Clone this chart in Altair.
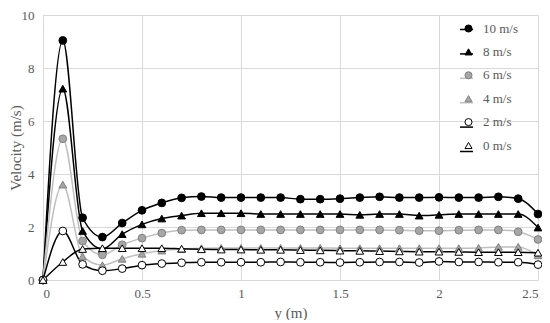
import altair as alt
import pandas as pd

# y position (m)
y_pos = [0.0, 0.1, 0.2, 0.3, 0.4, 0.5, 0.6, 0.7, 0.8, 0.9, 1.0, 1.1, 1.2,
         1.3, 1.4, 1.5, 1.6, 1.7, 1.8, 1.9, 2.0, 2.1, 2.2, 2.3, 2.4, 2.5]

series_names = ["10 m/s", "8 m/s", "6 m/s", "4 m/s", "2 m/s", "0 m/s"]

v10 = [0, 9.04, 2.35, 1.62, 2.15, 2.63, 2.91, 3.10, 3.15, 3.11, 3.11, 3.11, 3.11,
       3.05, 3.05, 3.07, 3.11, 3.14, 3.11, 3.11, 3.12, 3.11, 3.11, 3.14, 3.07, 2.49]
v8 = [0, 7.22, 1.85, 1.17, 1.73, 2.10, 2.32, 2.43, 2.52, 2.52, 2.52, 2.49, 2.49,
      2.49, 2.49, 2.49, 2.46, 2.49, 2.49, 2.43, 2.46, 2.49, 2.49, 2.49, 2.49, 1.98]
v6 = [0, 5.33, 1.47, 0.95, 1.33, 1.58, 1.77, 1.88, 1.89, 1.89, 1.89, 1.89, 1.89,
      1.89, 1.89, 1.89, 1.89, 1.89, 1.88, 1.86, 1.86, 1.88, 1.89, 1.89, 1.82, 1.53]
v4 = [0, 3.60, 0.89, 0.56, 0.80, 0.99, 1.11, 1.17, 1.20, 1.21, 1.21, 1.21, 1.21,
      1.21, 1.21, 1.20, 1.20, 1.20, 1.20, 1.20, 1.20, 1.20, 1.21, 1.25, 1.25, 0.93]
v2 = [0, 1.85, 0.59, 0.35, 0.43, 0.56, 0.62, 0.65, 0.67, 0.67, 0.67, 0.67, 0.68,
      0.67, 0.67, 0.66, 0.67, 0.68, 0.68, 0.66, 0.70, 0.68, 0.68, 0.67, 0.67, 0.58]
v0 = [0, 0.68, 1.17, 1.20, 1.20, 1.20, 1.20, 1.18, 1.16, 1.15, 1.15, 1.14, 1.14,
      1.13, 1.12, 1.11, 1.10, 1.09, 1.08, 1.07, 1.07, 1.06, 1.05, 1.05, 1.05, 1.03]

x_ticks = [0, 0.5, 1, 1.5, 2, 2.5]
y_ticks = [0, 2, 4, 6, 8, 10]

rows = []
for name, vals in zip(series_names, [v10, v8, v6, v4, v2, v0]):
    for xv, vv in zip(y_pos, vals):
        rows.append({"y": xv, "v": vv, "series": name, "series_l": name})
df = pd.DataFrame(rows)

FONT = "Liberation Serif, Times New Roman, serif"
TXT = "#595959"
GRID = "#D9D9D9"

shapes = ["circle", "triangle-up", "circle", "triangle-up", "circle", "triangle-up"]
fills = ["#000000", "#000000", "#A6A6A6", "#A6A6A6", "#FFFFFF", "#FFFFFF"]
strokes = ["#000000", "#000000", "#808080", "#808080", "#000000", "#000000"]
line_colors = ["#000000", "#000000", "#BFBFBF", "#BFBFBF", "#000000", "#000000"]

PH = 265

x_enc = alt.X("y:Q", scale=alt.Scale(domain=[0, 2.5], nice=False),
              axis=alt.Axis(values=x_ticks, format="~g", title="y (m)",
                            grid=True, gridColor=GRID, domain=False, ticks=False,
                            labelFont=FONT, labelFontSize=13, labelColor=TXT,
                            labelPadding=7, titleFont=FONT, titleFontSize=15,
                            titleFontWeight="normal", titleColor=TXT,
                            titleY=32, titleBaseline="middle"))
y_enc = alt.Y("v:Q", scale=alt.Scale(domain=[0, 10], nice=False),
              axis=alt.Axis(values=y_ticks, title="Velocity (m/s)",
                            grid=True, gridColor=GRID, domain=False, ticks=False,
                            labelFont=FONT, labelFontSize=13, labelColor=TXT,
                            labelPadding=9, titleFont=FONT, titleFontSize=15,
                            titleFontWeight="normal", titleColor=TXT,
                            titleX=-28, titleY=PH / 2, titleAngle=270,
                            titleBaseline="middle", titleAlign="center"))

LX = 416
LY = 7
ROWPAD = 9.4

lines = alt.Chart(df).mark_line(interpolate="monotone", strokeWidth=1.5).encode(
    x=x_enc,
    y=y_enc,
    color=alt.Color("series_l:N",
                    scale=alt.Scale(range=line_colors),
                    sort=series_names,
                    legend=alt.Legend(orient="none", legendX=LX, legendY=LY,
                                      title=None, symbolType="stroke",
                                      symbolSize=169, symbolStrokeWidth=1.5,
                                      labelFont=FONT, labelFontSize=13,
                                      labelExpr="''", rowPadding=ROWPAD,
                                      padding=0)),
    detail="series:N",
)

leg_pts = dict(orient="none", legendX=LX + 3, legendY=LY, title=None,
               symbolSize=50, symbolStrokeWidth=1, labelFont=FONT,
               labelFontSize=13, labelColor=TXT, rowPadding=ROWPAD,
               padding=0, labelOffset=8)

points = alt.Chart(df).mark_point(filled=False, size=60, strokeWidth=1,
                                  opacity=1).encode(
    x=x_enc,
    y=y_enc,
    shape=alt.Shape("series:N", scale=alt.Scale(domain=series_names, range=shapes),
                    sort=series_names, legend=alt.Legend(**leg_pts)),
    fill=alt.Fill("series:N", scale=alt.Scale(domain=series_names, range=fills),
                  sort=series_names, legend=alt.Legend(**leg_pts)),
    stroke=alt.Stroke("series:N", scale=alt.Scale(domain=series_names, range=strokes),
                      sort=series_names, legend=alt.Legend(**leg_pts)),
)

chart = alt.layer(lines, points).properties(
    width=495,
    height=PH,
    autosize=alt.AutoSizeParams(type="none"),
    padding={"left": 35, "top": 7, "right": 4, "bottom": 40},
).configure_view(stroke=None).configure(background="white")

chart.save("out.html", embed_options={"renderer": "svg", "actions": False})
